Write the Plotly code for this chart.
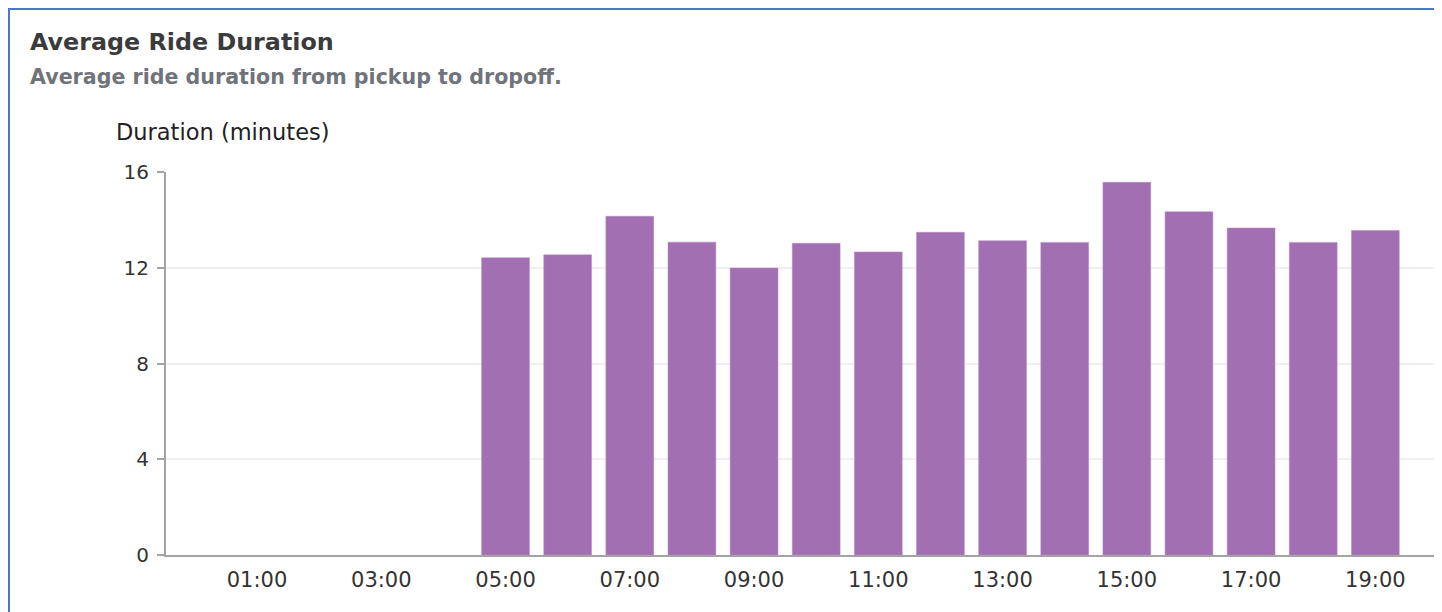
import plotly.graph_objects as go

hours = list(range(20))
hour_labels = [f"{h:02d}:00" for h in hours]
durations = [None, None, None, None, None,
             12.42, 12.54, 14.15, 13.07, 11.99, 13.02, 12.66, 13.48,
             13.13, 13.06, 15.57, 14.34, 13.66, 13.06, 13.56]
tick_hours = [1, 3, 5, 7, 9, 11, 13, 15, 17, 19]
tick_labels = [f"{h:02d}:00" for h in tick_hours]
y_ticks = [0, 4, 8, 12, 16]

# page body has an 8px margin; work in reference pixels and offset
OFF = 8
W, H = 1442 - OFF, 612 - OFF
L, R, T, B = 166 - OFF, 1435 - OFF, 172 - OFF, 555 - OFF
pw, ph = R - L, B - T

def px(x):
    return (x - OFF - L) / pw

def py(y):
    return (B - (y - OFF)) / ph

FONT = "DejaVu Sans, sans-serif"

fig = go.Figure(go.Bar(
    x=hours, y=durations,
    marker=dict(color="#a26fb2", line=dict(color="#b98bc7", width=0.5)),
    width=0.77,
))

fig.update_layout(
    width=W, height=H,
    margin=dict(l=L, r=W - R, t=T, b=H - B, pad=0),
    paper_bgcolor="white", plot_bgcolor="white",
    showlegend=False,
    font=dict(family=FONT, color="#333333", size=21),
    xaxis=dict(
        range=[-0.465, 19.96],
        tickmode="array", tickvals=tick_hours, ticktext=tick_labels,
        showgrid=False, showline=True, linecolor="#a3a3a3", linewidth=2,
        ticks="", tickfont=dict(size=21, color="#333333"),
        ticklabelstandoff=5,
        zeroline=False, fixedrange=True,
    ),
    yaxis=dict(
        range=[0, 16],
        tickmode="array", tickvals=y_ticks,
        showgrid=True, gridcolor="#f0f0f0", gridwidth=2,
        showline=True, linecolor="#a3a3a3", linewidth=2,
        ticks="outside", ticklen=7, tickcolor="#a3a3a3", tickwidth=2,
        tickfont=dict(size=20, color="#333333"),
        ticklabelstandoff=4,
        zeroline=False, fixedrange=True,
    ),
    shapes=[
        dict(type="rect", xref="paper", yref="paper",
             x0=px(9), x1=px(1435), y0=py(640), y1=py(9),
             line=dict(color="#4a78c8", width=2), fillcolor="rgba(0,0,0,0)",
             layer="above"),
    ],
    annotations=[
        dict(text="Average Ride Duration", xref="paper", yref="paper",
             x=px(28), y=py(42), xanchor="left", yanchor="middle",
             showarrow=False, font=dict(family=FONT, size=23.8, color="#3b3b3b", weight="bold")),
        dict(text="Average ride duration from pickup to dropoff.", xref="paper", yref="paper",
             x=px(28), y=py(77), xanchor="left", yanchor="middle",
             showarrow=False, font=dict(family=FONT, size=20.6, color="#70747a", weight="bold")),
        dict(text="Duration (minutes)", xref="paper", yref="paper",
             x=px(114), y=py(132), xanchor="left", yanchor="middle",
             showarrow=False, font=dict(family=FONT, size=22.5, color="#222222")),
    ],
)

fig.write_html("out.html")
